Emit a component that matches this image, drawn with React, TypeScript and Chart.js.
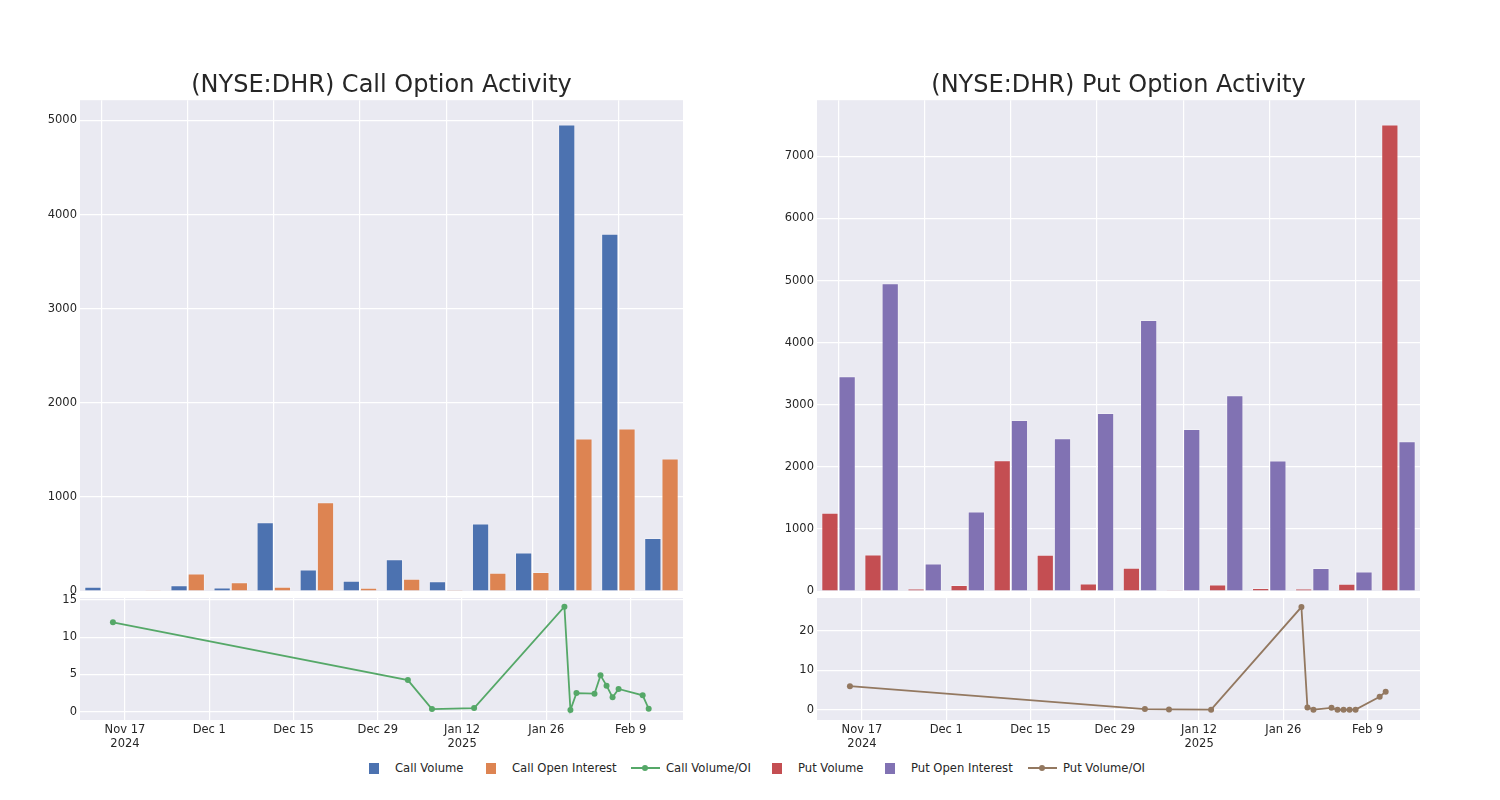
import React, { useEffect, useRef } from 'react';
import { Chart, registerables } from 'chart.js';

Chart.register(...registerables);

// ---------- data ----------
const tradeDates = [
  '2024-11-15', '2025-01-03', '2025-01-07', '2025-01-14', '2025-01-29', '2025-01-30', '2025-01-31',
  '2025-02-03', '2025-02-04', '2025-02-05', '2025-02-06', '2025-02-07', '2025-02-11', '2025-02-12',
];
const callVolume = [46, 8, 61, 39, 731, 229, 111, 339, 104, 717, 411, 4957, 3797, 564];
const callOpenInterest = [5, 3, 186, 93, 45, 944, 36, 132, 14, 196, 204, 1622, 1728, 1409];
const callVolumeOI = [12.0, 4.25, 0.36, 0.49, 14.1, 0.22, 2.5, 2.42, 4.88, 3.5, 1.93, 3.05, 2.2, 0.4];
const putVolume = [1263, 591, 43, 97, 2108, 586, 124, 376, 5, 108, 48, 38, 118, 7511];
const putOpenInterest = [3457, 4957, 446, 1280, 2753, 2462, 2866, 4366, 2608, 3151, 2102, 371, 317, 2414];
const putVolumeOI = [6.0, 0.17, 0.08, 0.03, 26.1, 0.6, 0.02, 0.5, 0.0, 0.0, 0.0, 0.03, 3.3, 4.6];

const callBarTicks = [0, 1000, 2000, 3000, 4000, 5000];
const putBarTicks = [0, 1000, 2000, 3000, 4000, 5000, 6000, 7000];
const callRatioTicks = [0, 5, 10, 15];
const putRatioTicks = [0, 10, 20];
const dateTicks = ['2024-11-17', '2024-12-01', '2024-12-15', '2024-12-29', '2025-01-12', '2025-01-26', '2025-02-09'];

// ---------- styles ----------
const C_BLUE = '#4C72B0';
const C_ORANGE = '#DD8452';
const C_GREEN = '#55A868';
const C_RED = '#C44E52';
const C_PURPLE = '#8172B3';
const C_BROWN = '#937860';
const TEXT = '#262626';
const FONT = 'DejaVu Sans';
const MONTHS = ['Jan', 'Feb', 'Mar', 'Apr', 'May', 'Jun', 'Jul', 'Aug', 'Sep', 'Oct', 'Nov', 'Dec'];

const dayNum = (s: string) => {
  const [y, m, d] = s.split('-').map(Number);
  return Date.UTC(y, m - 1, d) / 86400000;
};
const tickDays = dateTicks.map(dayNum);
const X_MIN = tickDays[0] - 7.47;
const X_MAX = tickDays[0] + 92.7;

const dateLabel = (v: number) => {
  const dt = new Date(v * 86400000);
  const idx = tickDays.indexOf(v);
  const txt = `${MONTHS[dt.getUTCMonth()]} ${dt.getUTCDate()}`;
  let showYear = idx === 0;
  if (idx > 0) {
    const prev = new Date(tickDays[idx - 1] * 86400000);
    if (prev.getUTCFullYear() !== dt.getUTCFullYear()) showYear = true;
  }
  return showYear ? [txt, String(dt.getUTCFullYear())] : txt;
};

const bgPlugin = {
  id: 'plotBg',
  beforeDraw(chart: any) {
    const { ctx, chartArea: a } = chart;
    ctx.save();
    ctx.fillStyle = '#EAEAF2';
    ctx.fillRect(a.left, a.top, a.right - a.left, a.bottom - a.top);
    ctx.restore();
  },
};

const tickFont = { family: FONT, size: 11.5 };

function barConfig(
  title: string,
  vol: number[],
  oi: number[],
  volLabel: string,
  oiLabel: string,
  volColor: string,
  oiColor: string,
  yMax: number,
  ticks: number[],
): any {
  return {
    type: 'bar',
    data: {
      labels: tradeDates,
      datasets: [
        { label: volLabel, data: vol, backgroundColor: volColor, borderColor: 'rgba(255,255,255,0.3)', borderWidth: 1, categoryPercentage: 0.8, barPercentage: 1 },
        { label: oiLabel, data: oi, backgroundColor: oiColor, borderColor: 'rgba(255,255,255,0.3)', borderWidth: 1, categoryPercentage: 0.8, barPercentage: 1 },
      ],
    },
    options: {
      responsive: false,
      animation: false,
      events: [],
      layout: { autoPadding: false, padding: { left: 0, right: 1, top: 0, bottom: 0 } },
      plugins: {
        legend: { display: false },
        tooltip: { enabled: false },
        title: {
          display: true,
          text: title,
          fullSize: false,
          color: TEXT,
          font: { family: FONT, size: 24, weight: 'normal' },
          padding: { top: 21.4, bottom: 0 },
        },
      },
      scales: {
        x: {
          grid: {
            offset: false,
            drawTicks: false,
            lineWidth: 1.2,
            color: (c: any) => (c.index % 2 === 0 ? '#ffffff' : 'rgba(0,0,0,0)'),
          },
          border: { display: false },
          ticks: { display: false },
          afterFit: (s: any) => { s.height = 0; },
        },
        y: {
          min: 0,
          max: yMax,
          grid: { color: '#ffffff', lineWidth: 1.2, drawTicks: false },
          border: { display: false },
          ticks: { font: tickFont, color: TEXT, padding: 3, callback: (v: any) => String(v) },
          afterBuildTicks: (s: any) => { s.ticks = ticks.map((v) => ({ value: v })); },
          afterFit: (s: any) => { s.width = 80; },
        },
      },
    },
    plugins: [bgPlugin],
  };
}

function lineConfig(label: string, vals: number[], color: string, yMin: number, yMax: number, ticks: number[]): any {
  return {
    type: 'line',
    data: {
      datasets: [
        {
          label,
          data: tradeDates.map((d, i) => ({ x: dayNum(d), y: vals[i] })),
          borderColor: color,
          backgroundColor: color,
          borderWidth: 1.8,
          pointRadius: 3,
          pointBorderWidth: 0,
          pointBackgroundColor: color,
          tension: 0,
        },
      ],
    },
    options: {
      responsive: false,
      animation: false,
      events: [],
      layout: { autoPadding: false, padding: { left: 0, right: 1, top: 13, bottom: 0 } },
      plugins: { legend: { display: false }, tooltip: { enabled: false } },
      scales: {
        x: {
          type: 'linear',
          min: X_MIN,
          max: X_MAX,
          grid: { color: '#ffffff', lineWidth: 1.2, drawTicks: false },
          border: { display: false },
          ticks: {
            font: tickFont,
            color: TEXT,
            padding: 3,
            maxRotation: 0,
            autoSkip: false,
            callback: (v: any) => dateLabel(Number(v)),
          },
          afterBuildTicks: (s: any) => { s.ticks = tickDays.map((v) => ({ value: v })); },
          afterFit: (s: any) => { s.height = 40; },
        },
        y: {
          min: yMin,
          max: yMax,
          grid: { color: '#ffffff', lineWidth: 1.2, drawTicks: false },
          border: { display: false },
          ticks: { font: tickFont, color: TEXT, padding: 3, callback: (v: any) => String(v) },
          afterBuildTicks: (s: any) => { s.ticks = ticks.map((v) => ({ value: v })); },
          afterFit: (s: any) => { s.width = 80; },
        },
      },
    },
    plugins: [bgPlugin],
  };
}

function ChartBox(props: { left: number; top: number; width: number; height: number; make: () => any }) {
  const ref = useRef<HTMLCanvasElement>(null);
  useEffect(() => {
    const chart = new Chart(ref.current as HTMLCanvasElement, props.make());
    return () => chart.destroy();
  }, []);
  return (
    <canvas
      ref={ref}
      width={props.width}
      height={props.height}
      style={{ position: 'absolute', left: props.left, top: props.top, width: props.width, height: props.height, display: 'block' }}
    />
  );
}

const legendItems = [
  { label: 'Call Volume', color: C_BLUE, kind: 'box', x: 369 },
  { label: 'Call Open Interest', color: C_ORANGE, kind: 'box', x: 486 },
  { label: 'Call Volume/OI', color: C_GREEN, kind: 'line', x: 631 },
  { label: 'Put Volume', color: C_RED, kind: 'box', x: 772 },
  { label: 'Put Open Interest', color: C_PURPLE, kind: 'box', x: 885 },
  { label: 'Put Volume/OI', color: C_BROWN, kind: 'line', x: 1028 },
];

function Legend() {
  return (
    <>
      {legendItems.map((it) => (
        <div
          key={it.label}
          style={{
            position: 'absolute',
            left: it.x,
            top: 760,
            height: 16,
            display: 'flex',
            alignItems: 'center',
            fontFamily: FONT,
            fontSize: 11.6,
            color: TEXT,
            whiteSpace: 'nowrap',
          }}
        >
          {it.kind === 'box' ? (
            <span style={{ display: 'inline-block', width: 10, height: 11, background: it.color, marginRight: 16 }} />
          ) : (
            <span style={{ position: 'relative', display: 'inline-block', width: 29, height: 8, marginRight: 6 }}>
              <span style={{ position: 'absolute', left: 0, top: 3, width: 29, height: 2, background: it.color }} />
              <span style={{ position: 'absolute', left: 11, top: 1, width: 6, height: 6, borderRadius: 3, background: it.color }} />
            </span>
          )}
          <span>{it.label}</span>
        </div>
      ))}
    </>
  );
}

export default function App() {
  return (
    <div style={{ position: 'absolute', left: 0, top: 0, width: 1500, height: 800, background: '#ffffff', overflow: 'hidden' }}>
      <ChartBox
        left={0}
        top={50}
        width={684}
        height={551}
        make={() => barConfig('(NYSE:DHR) Call Option Activity', callVolume, callOpenInterest, 'Call Volume', 'Call Open Interest', C_BLUE, C_ORANGE, 5215, callBarTicks)}
      />
      <ChartBox
        left={737}
        top={50}
        width={684}
        height={551}
        make={() => barConfig('(NYSE:DHR) Put Option Activity', putVolume, putOpenInterest, 'Put Volume', 'Put Open Interest', C_RED, C_PURPLE, 7903, putBarTicks)}
      />
      <ChartBox
        left={0}
        top={585}
        width={684}
        height={175}
        make={() => lineConfig('Call Volume/OI', callVolumeOI, C_GREEN, -1.11, 15.26, callRatioTicks)}
      />
      <ChartBox
        left={737}
        top={585}
        width={684}
        height={175}
        make={() => lineConfig('Put Volume/OI', putVolumeOI, C_BROWN, -2.6, 28.4, putRatioTicks)}
      />
      <Legend />
    </div>
  );
}
